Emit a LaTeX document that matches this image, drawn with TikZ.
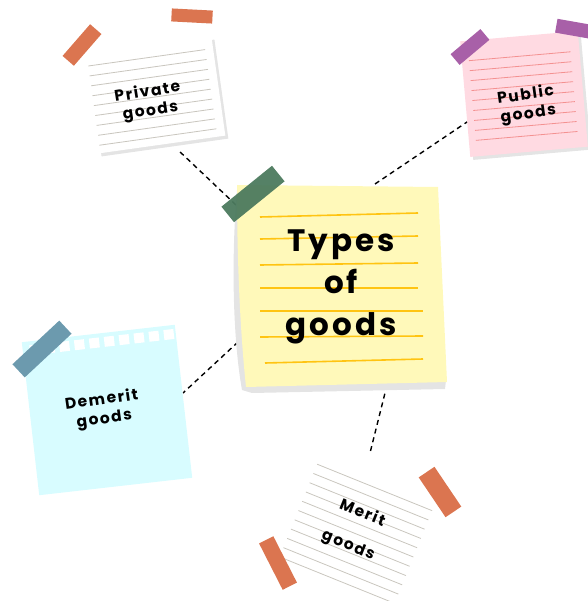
\documentclass[tikz,border=0pt]{standalone}
\usepackage{fontspec}
\newfontfamily\hand[LetterSpace=10]{Poppins}
\definecolor{tapeorange}{HTML}{DB7550}
\definecolor{tapepurple}{HTML}{A860A8}
\definecolor{tapegreen}{HTML}{4C7A5E}
\definecolor{tapeblue}{HTML}{6C9AAE}
\definecolor{notepink}{HTML}{FFDAE2}
\definecolor{pinkline}{HTML}{F49191}
\definecolor{noteyellow}{HTML}{FFF9BA}
\definecolor{yellowline}{HTML}{FFC412}
\definecolor{notecyan}{HTML}{D8FCFF}
\definecolor{greyline}{HTML}{C9C6BE}
\definecolor{noteshadow}{HTML}{E4E4E4}
\begin{document}
\begin{tikzpicture}[x=1pt,y=-1pt,
  note/.style={rectangle, draw=none, inner sep=0pt},
  tapestrip/.style={rectangle, draw=none, inner sep=0pt, fill=#1},
  ruleline/.style={draw=greyline, line width=0.8pt},
  link/.style={draw=black, line width=1.4pt, dash pattern=on 5pt off 4pt},
  smalltext/.style={align=center, inner sep=0pt, font=\hand\bfseries\fontsize{15.5}{19}\selectfont},
  bigtext/.style={align=center, inner sep=0pt, font=\hand\bfseries\fontsize{31}{42}\selectfont}]
\useasboundingbox (0,0) rectangle (587,601);

% connectors (drawn first, notes sit on top)
\coordinate (p1) at (178,150);  \coordinate (t1) at (236,205);
\coordinate (p2) at (470,120);  \coordinate (t2) at (375,184);
\coordinate (p3) at (183,393);  \coordinate (t3) at (238,342);
\coordinate (p4) at (370,453);  \coordinate (t4) at (387,385);
\draw[link] (t1) -- (p1);
\draw[link] (t2) -- (p2);
\draw[link] (t3) -- (p3);
\draw[link] (t4) -- (p4);

% ---- private goods (white lined note)
\node[note, fill=noteshadow, minimum width=128pt, minimum height=100pt, rotate=8] at (158,98) {};
\node[note, fill=white, minimum width=128pt, minimum height=100pt, rotate=8] (private) at (155,95) {};
\begin{scope}[shift={(155,95)}, rotate=8]
  \foreach \y in {-38,-28,...,42} \draw[ruleline] (-62,\y) -- (56,\y);
\end{scope}
\node[tapestrip=tapeorange, minimum width=42pt, minimum height=15pt, rotate=49] (ptapeA) at (82,45) {};
\node[tapestrip=tapeorange, minimum width=41pt, minimum height=13pt, rotate=-3] (ptapeB) at (192,16) {};
\node[smalltext, rotate=9] (privatelabel) at (149,102) {Private\\goods};

% ---- public goods (pink lined note)
\node[note, fill=noteshadow, minimum width=118pt, minimum height=116pt, rotate=5] at (527,97) {};
\node[note, fill=notepink, minimum width=118pt, minimum height=116pt, rotate=5] (public) at (524,94) {};
\begin{scope}[shift={(524,94)}, rotate=5]
  \foreach \y in {-38,-28,...,42} \draw[draw=pinkline, line width=0.8pt] (-52,\y) -- (50,\y);
\end{scope}
\node[tapestrip=tapepurple, minimum width=39pt, minimum height=14pt, rotate=40] (utapeA) at (470,47) {};
\node[tapestrip=tapepurple, minimum width=38pt, minimum height=14pt, rotate=-10] (utapeB) at (575,29) {};
\node[smalltext, rotate=8] (publiclabel) at (527,105) {Public\\goods};

% ---- central yellow note with curled shadow
\fill[noteshadow] (237,190) .. controls (231,260) and (233,340) .. (242,390) -- (252,393) -- (445,389) -- (446,380) -- cycle;
\fill[noteyellow] (237,185) -- (438,187) -- (447,382) -- (246,387) .. controls (240,330) and (237,260) .. cycle;
\node[coordinate] (central) at (341,285) {};
\foreach \a/\b/\c/\d in {260/217/418/213, 260/239/418/236, 260/265/418/263, 260/288/418/288,
                         260/311/423/311, 260/337/423/336, 265/363/423/359}
  \draw[draw=yellowline, line width=1.6pt] (\a,\b) -- (\c,\d);
\node[tapestrip=tapegreen, opacity=0.95, minimum width=65pt, minimum height=20pt, rotate=39] (ctape) at (253,194) {};
\node[bigtext] (title) at (341,287) {Types\\of\\goods};

% ---- demerit goods (cyan note with punched strip)
\node[note, fill=notecyan, minimum width=154pt, minimum height=154pt, rotate=6.5] (demerit) at (107,410) {};
\begin{scope}[shift={(107,410)}, rotate=6.5]
  \foreach \i in {0,...,9} \fill[white] (-70+15*\i,-73) rectangle ++(10,10);
\end{scope}
\node[tapestrip=tapeblue, minimum width=64pt, minimum height=18pt, rotate=43] (dtape) at (42,349) {};
\node[smalltext, rotate=8] (demeritlabel) at (103,410) {Demerit\\goods};

% ---- merit goods (white lined note, tilted)
\begin{scope}[shift={(357,531)}, rotate=-22]
  \foreach \y in {-47,-37,...,53} \draw[ruleline] (-62,\y) -- (62,\y);
  \node[coordinate] (merit) at (0,0) {};
\end{scope}
\node[smalltext, rotate=-22] (meritA) at (363,512) {Merit};
\node[smalltext, rotate=-22] (meritB) at (348,546) {goods};
\node[tapestrip=tapeorange, minimum width=48pt, minimum height=19pt, rotate=-56] (mtapeA) at (440,492) {};
\node[tapestrip=tapeorange, minimum width=52pt, minimum height=16pt, rotate=-63] (mtapeB) at (278,563) {};
\end{tikzpicture}
\end{document}
